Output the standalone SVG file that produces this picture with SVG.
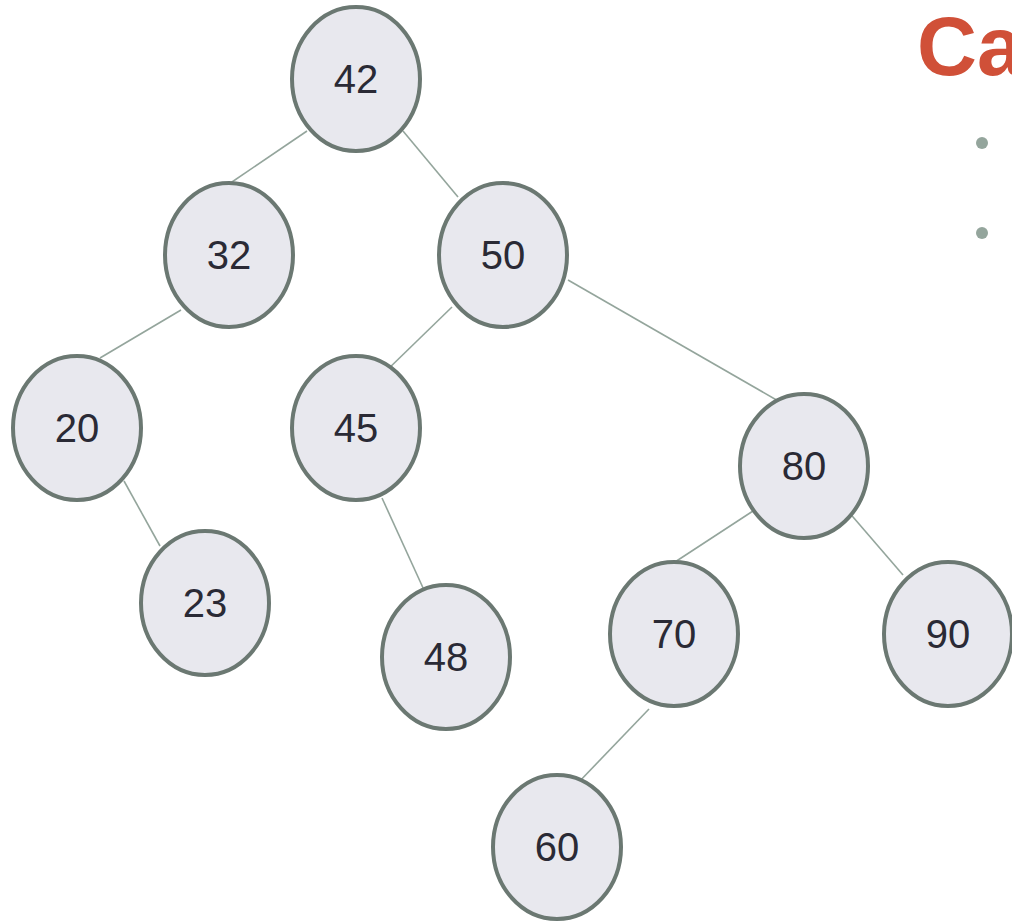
<svg xmlns="http://www.w3.org/2000/svg" width="1012" height="922" viewBox="0 0 1012 922">
<style>
.n ellipse{fill:#e8e8ee;stroke:#6b7872;stroke-width:4}
.n text{font-family:"Liberation Sans",Arial,sans-serif;font-size:40px;fill:#2a2a35;text-anchor:middle}
.e line{stroke:#94a59c;stroke-width:1.6}
.b{fill:#94a59c}
</style>
<rect width="1012" height="922" fill="#ffffff"/>
<g id="edges" class="e">
<line x1="307" y1="131" x2="229" y2="184"/>
<line x1="403" y1="131" x2="458" y2="197"/>
<line x1="181" y1="310" x2="100" y2="358"/>
<line x1="452" y1="307" x2="383" y2="374"/>
<line x1="568" y1="280" x2="780" y2="402"/>
<line x1="124" y1="481" x2="160" y2="546"/>
<line x1="382" y1="498" x2="424" y2="590"/>
<line x1="753" y1="511" x2="675" y2="562"/>
<line x1="847" y1="510" x2="903" y2="575"/>
<line x1="649" y1="709" x2="576" y2="785"/>
</g>
<g id="n42" class="n"><ellipse cx="356" cy="79" rx="64" ry="72"/><text x="356" y="93">42</text></g>
<g id="n32" class="n"><ellipse cx="229" cy="255" rx="64" ry="72"/><text x="229" y="269">32</text></g>
<g id="n50" class="n"><ellipse cx="503" cy="255" rx="64" ry="72"/><text x="503" y="269">50</text></g>
<g id="n20" class="n"><ellipse cx="77" cy="428" rx="64" ry="72"/><text x="77" y="442">20</text></g>
<g id="n45" class="n"><ellipse cx="356" cy="428" rx="64" ry="72"/><text x="356" y="442">45</text></g>
<g id="n80" class="n"><ellipse cx="804" cy="466" rx="64" ry="72"/><text x="804" y="480">80</text></g>
<g id="n23" class="n"><ellipse cx="205" cy="603" rx="64" ry="72"/><text x="205" y="617">23</text></g>
<g id="n48" class="n"><ellipse cx="446" cy="657" rx="64" ry="72"/><text x="446" y="671">48</text></g>
<g id="n70" class="n"><ellipse cx="674" cy="634" rx="64" ry="72"/><text x="674" y="648">70</text></g>
<g id="n90" class="n"><ellipse cx="948" cy="634" rx="64" ry="72"/><text x="948" y="648">90</text></g>
<g id="n60" class="n"><ellipse cx="557" cy="847" rx="64" ry="72"/><text x="557" y="861">60</text></g>
<text x="917" y="75" font-family="'Liberation Sans',Arial,sans-serif" font-weight="bold" font-size="83" fill="#d05038">Ca</text>
<circle class="b" cx="982" cy="143" r="6"/>
<circle class="b" cx="982" cy="233" r="6"/>
</svg>
